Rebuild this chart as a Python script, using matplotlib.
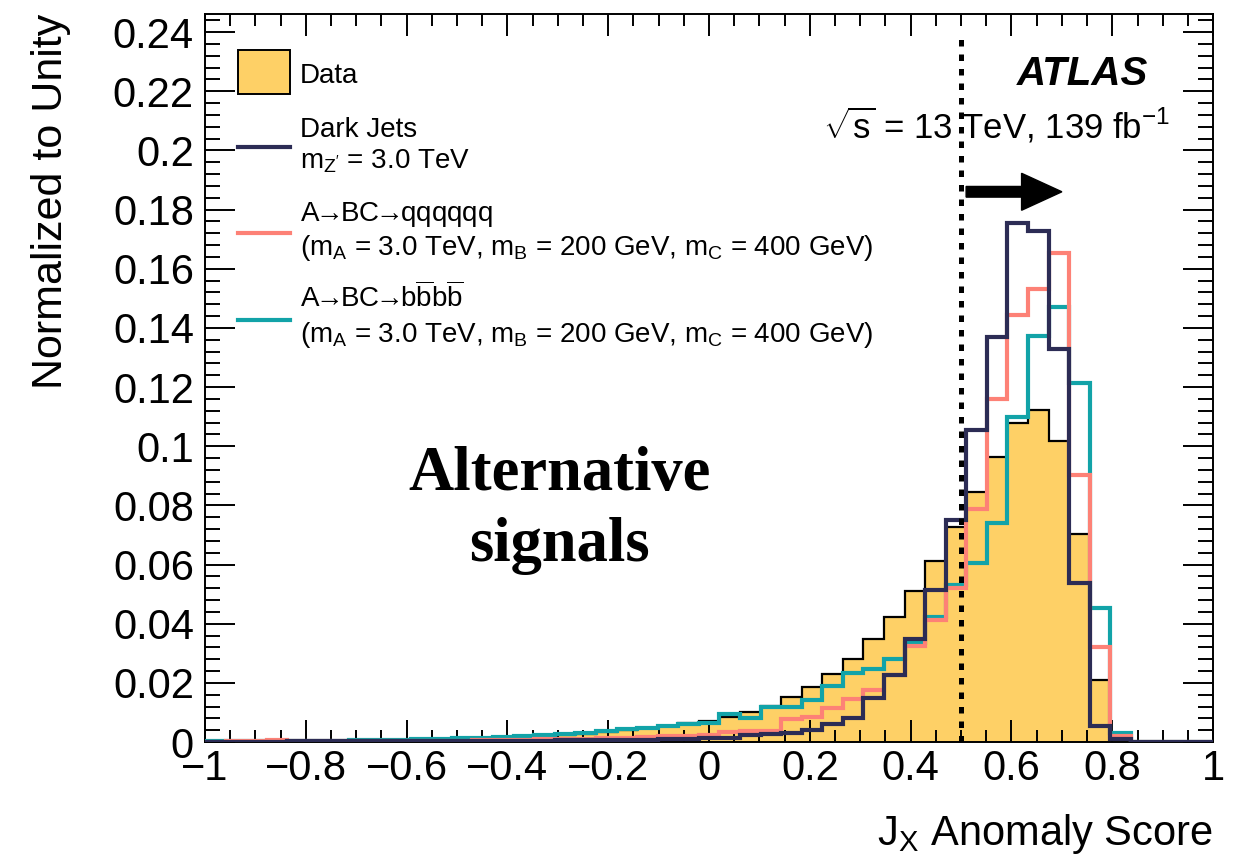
import numpy as np
import matplotlib
matplotlib.use("Agg")
import matplotlib.pyplot as plt
from matplotlib.ticker import MultipleLocator, FuncFormatter
from matplotlib.patches import Rectangle, FancyArrow
from matplotlib.lines import Line2D

plt.rcParams['font.family'] = ['Liberation Sans', 'DejaVu Sans']
plt.rcParams['mathtext.fontset'] = 'custom'
plt.rcParams['mathtext.rm'] = 'Liberation Sans'
plt.rcParams['mathtext.it'] = 'Liberation Sans:italic'
plt.rcParams['mathtext.bf'] = 'Liberation Sans:bold'

# 49 bins between -1 and 1
n_bins = 49
edges = np.linspace(-1, 1, n_bins + 1)

data = [0.0003, 0.0003, 0.0003, 0.0004, 0.0004, 0.0004, 0.0005, 0.0005, 0.0006, 0.0006,
        0.0007, 0.0008, 0.0009, 0.0010, 0.0012, 0.0014, 0.0017, 0.0022, 0.0028, 0.0035,
        0.0041, 0.0047, 0.0055, 0.0063,
        0.0071, 0.0086, 0.0102, 0.0123, 0.0153, 0.0187, 0.0229, 0.0281, 0.0347, 0.0423, 0.0511, 0.0613,
        0.0727, 0.0844, 0.0964, 0.1077, 0.1122, 0.1018, 0.0702, 0.0209, 0.0006,
        0, 0, 0, 0]

dark_jets = [0.0001, 0.0001, 0.0001, 0.0001, 0.0002, 0.0002, 0.0002, 0.0002, 0.0003, 0.0003,
             0.0003, 0.0003, 0.0004, 0.0004, 0.0004, 0.0005, 0.0005, 0.0006, 0.0006, 0.0007,
             0.0008, 0.0008, 0.0009, 0.0010,
             0.0012, 0.0012, 0.0024, 0.0027, 0.0030, 0.0041, 0.0061, 0.0080, 0.0150, 0.0226, 0.0347, 0.0514,
             0.0750, 0.1054, 0.1369, 0.1756, 0.1726, 0.1328, 0.0536, 0.0055, 0.0009,
             0, 0, 0, 0]

qqqqqq = [0.0001, 0.0002, 0.0004, 0.0006, 0.0003, 0.0002, 0.0002, 0.0003, 0.0003, 0.0004,
          0.0004, 0.0005, 0.0005, 0.0006, 0.0007, 0.0008, 0.0009, 0.0010, 0.0011, 0.0013,
          0.0015, 0.0017, 0.0019, 0.0021,
          0.0024, 0.0035, 0.0036, 0.0037, 0.0077, 0.0085, 0.0116, 0.0144, 0.0176, 0.0226, 0.0324, 0.0414,
          0.0519, 0.0786, 0.1158, 0.1445, 0.1530, 0.1654, 0.0902, 0.0322, 0.0020,
          0, 0, 0, 0]

bbbb = [0.0002, 0.0002, 0.0003, 0.0003, 0.0004, 0.0004, 0.0005, 0.0006, 0.0007, 0.0008,
        0.0009, 0.0010, 0.0012, 0.0014, 0.0016, 0.0019, 0.0022, 0.0026, 0.0031, 0.0037,
        0.0043, 0.0049, 0.0055, 0.0060,
        0.0063, 0.0094, 0.0080, 0.0119, 0.0119, 0.0142, 0.0189, 0.0232, 0.0246, 0.0279, 0.0336, 0.0421,
        0.0530, 0.0604, 0.0739, 0.1099, 0.1373, 0.1470, 0.1212, 0.0452, 0.0029,
        0, 0, 0, 0]

cut_value = 0.5

col_data = '#fed066'
col_dark = '#2c2c55'
col_qq = '#fd8176'
col_bb = '#12a3a8'

fig = plt.figure(figsize=(12.39, 8.64), dpi=100)
ax = fig.add_axes([0.1655, 0.1412, 0.8136, 0.8426])

# histograms
ax.stairs(data, edges, fill=True, color=col_data, zorder=1)
ax.stairs(data, edges, color='black', lw=1.6, zorder=2)
ax.stairs(bbbb, edges, color=col_bb, lw=3.0, zorder=3)
ax.stairs(qqqqqq, edges, color=col_qq, lw=3.0, zorder=4)
ax.stairs(dark_jets, edges, color=col_dark, lw=3.0, zorder=5)

# cut line + arrow
ax.plot([cut_value, cut_value], [0, 0.24], color='black', lw=3.6,
        linestyle=(0, (1.3, 1.6)), dash_capstyle='butt', zorder=6)
ax.add_patch(FancyArrow(0.51, 0.186, 0.19, 0, width=0.0036, head_width=0.0125,
                        head_length=0.08, length_includes_head=True,
                        color='black', zorder=7))

ax.set_xlim(-1, 1)
ax.set_ylim(0, 0.2461)


def tick_fmt(v, p):
    v = round(v, 6)
    if abs(v) < 1e-9:
        v = 0.0
    return f"{v:g}".replace('-', '\u2212')


fmt = FuncFormatter(tick_fmt)
ax.xaxis.set_major_locator(MultipleLocator(0.2))
ax.xaxis.set_minor_locator(MultipleLocator(0.05))
ax.yaxis.set_major_locator(MultipleLocator(0.02))
ax.yaxis.set_minor_locator(MultipleLocator(0.004))
ax.xaxis.set_major_formatter(fmt)
ax.yaxis.set_major_formatter(fmt)

ax.tick_params(which='both', direction='in', top=True, right=True, width=1.4, labelsize=30)
ax.tick_params(axis='x', which='major', length=16, pad=5)
ax.tick_params(axis='x', which='minor', length=8.5)
ax.tick_params(axis='y', which='major', length=21.5, pad=8)
ax.tick_params(axis='y', which='minor', length=10.8)
for s in ax.spines.values():
    s.set_linewidth(1.4)

ax.set_xlabel(r"J$_{\mathrm{X}}$ Anomaly Score", fontsize=30, loc='right')
ax.xaxis.set_label_coords(1.0, -0.096)
ax.set_ylabel("Normalized to Unity", fontsize=31, loc='top')
ax.yaxis.set_label_coords(-0.133, 1.0)

# legend (manual, ROOT style)
tr = ax.transAxes
ax.add_patch(Rectangle((0.0327, 0.890), 0.0516, 0.0605, facecolor=col_data,
                       edgecolor='black', lw=1.4, transform=tr, zorder=8))
ax.text(0.0942, 0.905, "Data", fontsize=20, transform=tr, va='baseline')

arrow = r"$\!\!\rightarrow\!\!$"
bbar = r"$\overline{\mathrm{b}}$"
masses = r"(m$_{\mathrm{A}}$ = 3.0 TeV, m$_{\mathrm{B}}$ = 200 GeV, m$_{\mathrm{C}}$ = 400 GeV)"
legend_rows = [
    (col_dark, 0.817, "Dark Jets", r"m$_{\mathrm{Z'}}$ = 3.0 TeV", 0.831, 0.788),
    (col_qq, 0.699, "A" + arrow + "BC" + arrow + "qqqqqq", masses, 0.716, 0.669),
    (col_bb, 0.580, "A" + arrow + "BC" + arrow + "b" + bbar + "b" + bbar, masses, 0.597, 0.549),
]
for c, yl, t1, t2, y1, y2 in legend_rows:
    ax.add_line(Line2D([0.0327, 0.0843], [yl, yl], color=c, lw=3.0, transform=tr))
    ax.text(0.0942, y1, t1, fontsize=20, transform=tr, va='baseline')
    ax.text(0.0942, y2, t2, fontsize=20, transform=tr, va='baseline')

ax.text(0.9355, 0.9025, "ATLAS", fontsize=29, fontweight='bold', fontstyle='italic',
        transform=tr, ha='right', va='baseline')
ax.text(0.957, 0.829, r"$\sqrt{\mathrm{s}}$ = 13 TeV, 139 fb$^{\mathrm{-1}}$", fontsize=25,
        transform=tr, ha='right', va='baseline')

ax.text(0.352, 0.318, "Alternative\nsignals", fontsize=45, fontweight='bold',
        family='Liberation Serif', ha='center', va='center', transform=tr,
        linespacing=1.3)

fig.savefig("out.png", dpi=100)
